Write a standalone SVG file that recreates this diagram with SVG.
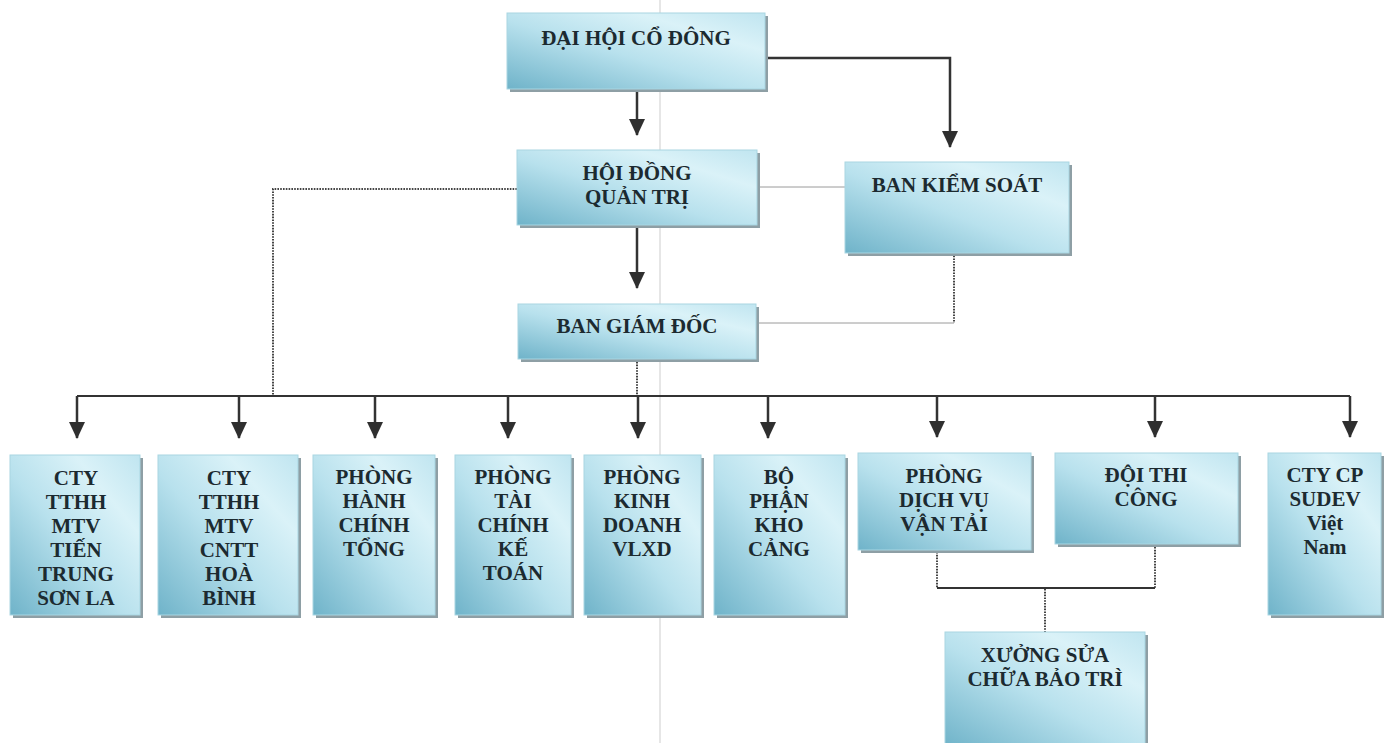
<svg xmlns="http://www.w3.org/2000/svg" width="1391" height="743" viewBox="0 0 1391 743">
<style>
.box{fill:url(#g);stroke:#a9d6e2;stroke-width:1}
.sh{fill:#8e9fa5}
.t{font-family:"Liberation Serif","Times New Roman",serif;font-weight:bold;font-size:21px;fill:#1c2a30;text-anchor:middle}
.tt{font-size:21px}
.arr{stroke:#333;stroke-width:2.5;fill:none}
.bus{stroke:#333;stroke-width:2;fill:none}
.thin{stroke:#9a9a9a;stroke-width:1;fill:none}
.solid{stroke:#333;stroke-width:2;fill:none}
.dot{stroke:#444;stroke-width:2;stroke-dasharray:1.6 1.2;fill:none}
</style>
<defs>
<linearGradient id="g" x1="0" y1="1" x2="1" y2="0">
<stop offset="0" stop-color="#6fb3c9"/>
<stop offset="0.45" stop-color="#b8e1ed"/>
<stop offset="0.75" stop-color="#daf2f8"/>
<stop offset="1" stop-color="#c0e5f0"/>
</linearGradient>
<marker id="ad" markerUnits="userSpaceOnUse" markerWidth="18" markerHeight="18" refX="16" refY="8.5" orient="auto" viewBox="0 0 18 17">
<path d="M0 0.5 L17 8.5 L0 16.5 Z" fill="#2f2f2f"/>
</marker>
</defs>
<rect width="1391" height="743" fill="#ffffff"/>
<line x1="660" y1="0" x2="660" y2="743" stroke="#dedede" stroke-width="1.5"/>

<g id="connectors">
<path class="arr" d="M637 92 V135" marker-end="url(#ad)"/>
<path class="arr" d="M765 58 H950 V147" marker-end="url(#ad)"/>
<path class="arr" d="M637 228 V288" marker-end="url(#ad)"/>
<path class="thin" d="M757 187 H845"/>
<path class="dot" d="M954 222 V323"/>
<path class="thin" d="M756 323 H954"/>
<path class="dot" d="M517 189 H273 V395"/>
<path class="dot" d="M637 359 V395"/>
<path class="bus" d="M77 396 H1350"/>
<path class="arr" d="M77 396 V438" marker-end="url(#ad)"/>
<path class="arr" d="M239 396 V438" marker-end="url(#ad)"/>
<path class="arr" d="M375 396 V438" marker-end="url(#ad)"/>
<path class="arr" d="M508 396 V438" marker-end="url(#ad)"/>
<path class="arr" d="M638 396 V438" marker-end="url(#ad)"/>
<path class="arr" d="M768 396 V438" marker-end="url(#ad)"/>
<path class="arr" d="M937 396 V437" marker-end="url(#ad)"/>
<path class="arr" d="M1155 396 V437" marker-end="url(#ad)"/>
<path class="arr" d="M1350 396 V437" marker-end="url(#ad)"/>
<path class="dot" d="M937 552 V588"/>
<path class="dot" d="M1155 547 V588"/>
<path class="solid" d="M937 588 H1155"/>
<path class="dot" d="M1045 589 V632"/>
</g>

<g id="n-dhcd">
<rect class="sh" x="510" y="16" width="258" height="76"/>
<rect class="box" x="507" y="13" width="258" height="76"/>
<text class="t tt" x="636" y="45">ĐẠI HỘI CỔ ĐÔNG</text>
</g>
<g id="n-hdqt">
<rect class="sh" x="520" y="153" width="240" height="75"/>
<rect class="box" x="517" y="150" width="240" height="75"/>
<text class="t tt" x="637" y="180">HỘI ĐỒNG</text>
<text class="t tt" x="637" y="204">QUẢN TRỊ</text>
</g>
<g id="n-bks">
<rect class="sh" x="848" y="165" width="224" height="91"/>
<rect class="box" x="845" y="162" width="224" height="91"/>
<text class="t tt" x="957" y="192">BAN KIỂM SOÁT</text>
</g>
<g id="n-bgd">
<rect class="sh" x="521" y="307" width="238" height="55"/>
<rect class="box" x="518" y="304" width="238" height="55"/>
<text class="t tt" x="637" y="333">BAN GIÁM ĐỐC</text>
</g>

<g id="n-tientrung">
<rect class="sh" x="13" y="458" width="130" height="160"/>
<rect class="box" x="10" y="455" width="130" height="160"/>
<text class="t" x="76" y="485">CTY</text>
<text class="t" x="76" y="509">TTHH</text>
<text class="t" x="76" y="533">MTV</text>
<text class="t" x="76" y="557">TIẾN</text>
<text class="t" x="76" y="581">TRUNG</text>
<text class="t" x="76" y="605">SƠN LA</text>
</g>
<g id="n-cntt">
<rect class="sh" x="161" y="458" width="140" height="160"/>
<rect class="box" x="158" y="455" width="140" height="160"/>
<text class="t" x="229" y="485">CTY</text>
<text class="t" x="229" y="509">TTHH</text>
<text class="t" x="229" y="533">MTV</text>
<text class="t" x="229" y="557">CNTT</text>
<text class="t" x="229" y="581">HOÀ</text>
<text class="t" x="229" y="605">BÌNH</text>
</g>
<g id="n-hcth">
<rect class="sh" x="316" y="458" width="122" height="160"/>
<rect class="box" x="313" y="455" width="122" height="160"/>
<text class="t" x="374" y="484">PHÒNG</text>
<text class="t" x="374" y="508">HÀNH</text>
<text class="t" x="374" y="532">CHÍNH</text>
<text class="t" x="374" y="556">TỔNG</text>
</g>
<g id="n-tckt">
<rect class="sh" x="458" y="458" width="116" height="160"/>
<rect class="box" x="455" y="455" width="116" height="160"/>
<text class="t" x="513" y="484">PHÒNG</text>
<text class="t" x="513" y="508">TÀI</text>
<text class="t" x="513" y="532">CHÍNH</text>
<text class="t" x="513" y="556">KẾ</text>
<text class="t" x="513" y="580">TOÁN</text>
</g>
<g id="n-kd">
<rect class="sh" x="587" y="458" width="117" height="160"/>
<rect class="box" x="584" y="455" width="117" height="160"/>
<text class="t" x="642" y="484">PHÒNG</text>
<text class="t" x="642" y="508">KINH</text>
<text class="t" x="642" y="532">DOANH</text>
<text class="t" x="642" y="556">VLXD</text>
</g>
<g id="n-kho">
<rect class="sh" x="717" y="458" width="131" height="160"/>
<rect class="box" x="714" y="455" width="131" height="160"/>
<text class="t" x="779" y="484">BỘ</text>
<text class="t" x="779" y="508">PHẬN</text>
<text class="t" x="779" y="532">KHO</text>
<text class="t" x="779" y="556">CẢNG</text>
</g>
<g id="n-dvvt">
<rect class="sh" x="861" y="456" width="173" height="97"/>
<rect class="box" x="858" y="453" width="173" height="97"/>
<text class="t" x="944" y="483">PHÒNG</text>
<text class="t" x="944" y="507">DỊCH VỤ</text>
<text class="t" x="944" y="531">VẬN TẢI</text>
</g>
<g id="n-thicong">
<rect class="sh" x="1058" y="456" width="183" height="91"/>
<rect class="box" x="1055" y="453" width="183" height="91"/>
<text class="t" x="1146" y="482">ĐỘI THI</text>
<text class="t" x="1146" y="506">CÔNG</text>
</g>
<g id="n-sudev">
<rect class="sh" x="1271" y="456" width="113" height="162"/>
<rect class="box" x="1268" y="453" width="113" height="162"/>
<text class="t" x="1325" y="482">CTY CP</text>
<text class="t" x="1325" y="506">SUDEV</text>
<text class="t" x="1325" y="530">Việt</text>
<text class="t" x="1325" y="554">Nam</text>
</g>
<g id="n-xuong">
<rect class="sh" x="948" y="635" width="200" height="115"/>
<rect class="box" x="945" y="632" width="200" height="115"/>
<text class="t" x="1045" y="662">XƯỞNG SỬA</text>
<text class="t" x="1045" y="686">CHỮA BẢO TRÌ</text>
</g>
</svg>
